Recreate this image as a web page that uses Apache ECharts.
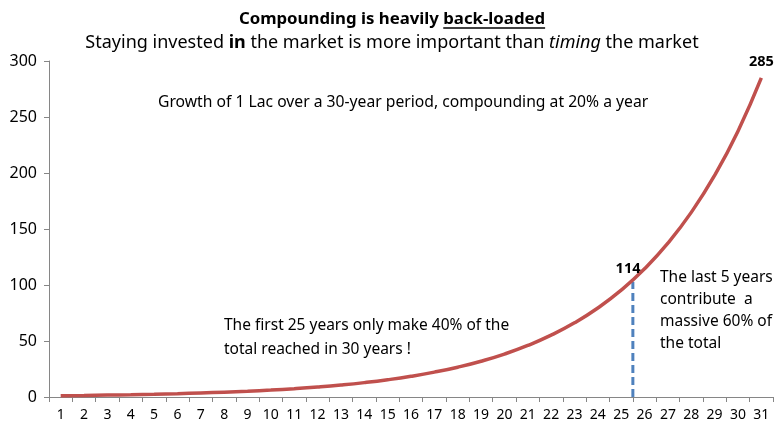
<!DOCTYPE html>
<html><head><meta charset="utf-8">
<script src="https://cdn.jsdelivr.net/npm/echarts@6/dist/echarts.min.js"></script>
<style>html,body{margin:0;padding:0;background:#fff}#c{width:784px;height:440px}</style>
</head><body><div id="c"></div>
<script>
const years = ['1','2','3','4','5','6','7','8','9','10','11','12','13','14','15','16','17','18','19','20','21','22','23','24','25','26','27','28','29','30','31'];
const growth = [1.2,1.44,1.73,2.07,2.49,2.99,3.58,4.3,5.16,6.19,7.43,8.92,10.7,12.84,15.41,18.49,22.19,26.62,31.95,38.34,46.01,55.21,66.25,79.5,95.4,114.48,137.37,164.84,197.81,237.38,284.85];
const yTicks = [0,50,100,150,200,250,300];
const dividerX = [25.5, 25.5];
const dividerY = [0, 103];
const labelled = {25: '114', 30: '285'};

const F = "'Noto Sans', 'DejaVu Sans', sans-serif";
const TS = 16.8, SS = 18;
const titleA = 'Compounding is heavily ', titleB = 'back-loaded';
const mc = document.createElement('canvas').getContext('2d');
mc.font = 'bold ' + TS + 'px ' + F;
const wA = mc.measureText(titleA).width, wB = mc.measureText(titleB).width;
const tx0 = 392 - (wA + wB) / 2;

const chart = echarts.init(document.getElementById('c'), null, {renderer: 'canvas'});
const lineData = growth.map((v, i) => {
  if (labelled[i] !== undefined) {
    return {value: v, label: {show: true, formatter: labelled[i], position: i === 30 ? 'top' : 'left', distance: i === 30 ? 9 : 4,
      fontFamily: F, fontWeight: 'bold', fontSize: 14.5, color: '#000'}};
  }
  return v;
});
chart.setOption({
  animation: false,
  backgroundColor: '#fff',
  title: {
    left: 'center', top: 6, itemGap: 6,
    text: titleA + '{u|' + titleB + '}',
    textStyle: {fontFamily: F, fontSize: TS, fontWeight: 'bold', color: '#000',
      rich: {u: {fontFamily: F, fontSize: TS, fontWeight: 'bold', color: '#000'}}},
    subtext: 'Staying invested {b|in} the market is more important than {i|timing} the market',
    subtextStyle: {fontFamily: F, fontSize: SS, color: '#000',
      rich: {b: {fontFamily: F, fontSize: SS, fontWeight: 'bold', color: '#000'},
             i: {fontFamily: F, fontSize: SS, fontStyle: 'italic', color: '#000'}}}
  },
  grid: {left: 49, right: 11, top: 61, bottom: 43, containLabel: false},
  xAxis: [{
    type: 'category', data: years, boundaryGap: true,
    axisLine: {lineStyle: {color: '#868686', width: 1}},
    axisTick: {show: true, length: 5, lineStyle: {color: '#868686'}},
    axisLabel: {fontFamily: F, fontSize: 14, color: '#000', margin: 11, interval: 0},
    splitLine: {show: false}
  }, {
    type: 'value', min: 0.5, max: 31.5, show: false, position: 'bottom'
  }],
  yAxis: {
    type: 'value', min: 0, max: 300, interval: 50,
    axisLine: {show: true, lineStyle: {color: '#868686', width: 1}},
    axisTick: {show: true, length: 5, lineStyle: {color: '#868686'}},
    axisLabel: {fontFamily: F, fontSize: 16, color: '#000', margin: 12,
      formatter: v => yTicks.includes(v) ? String(v) : ''},
    splitLine: {show: false}
  },
  series: [{
    type: 'line', xAxisIndex: 1, data: dividerX.map((x, i) => [x, dividerY[i]]),
    symbol: 'none', lineStyle: {color: '#4F81BD', width: 3, type: [8, 4]}, z: 1, silent: true
  }, {
    type: 'line', xAxisIndex: 0, data: lineData, smooth: true, symbol: 'circle', symbolSize: 0.1, showSymbol: true,
    itemStyle: {color: 'rgba(0,0,0,0)'},
    lineStyle: {color: '#C0504D', width: 3.5}, z: 2
  }],
  graphic: [
    {type: 'line', shape: {x1: tx0 + wA, y1: 28, x2: tx0 + wA + wB, y2: 28}, style: {stroke: '#000', lineWidth: 1.3}},
    {type: 'text', left: 158, top: 95, style: {text: 'Growth of 1 Lac over a 30-year period, compounding at 20% a year', fontFamily: F, fontSize: 15.7, fill: '#000'}},
    {type: 'text', left: 224, top: 314, style: {text: 'The first 25 years only make 40% of the\ntotal reached in 30 years !', fontFamily: F, fontSize: 15.5, lineHeight: 24, fill: '#000'}},
    {type: 'text', left: 660, top: 267, style: {text: 'The last 5 years\ncontribute  a\nmassive 60% of\nthe total', fontFamily: F, fontSize: 15.5, lineHeight: 22, fill: '#000'}}
  ]
});
</script></body></html>
